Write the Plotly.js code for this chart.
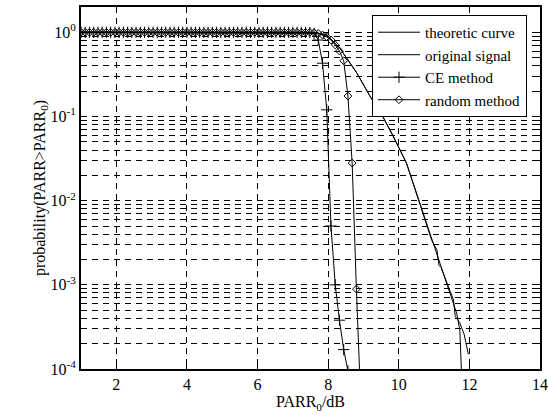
<!DOCTYPE html>
<html>
<head>
<meta charset="utf-8">
<script src="https://cdn.plot.ly/plotly-3.0.1.min.js"></script>
<style>html,body{margin:0;padding:0;background:#fff;}#chart{width:548px;height:417px;}</style>
</head>
<body>
<div id="chart"></div>
<script>
// ---- data ----
var theoX = [1.0, 7.0, 7.4, 7.7, 7.96, 8.33, 8.81, 9.2, 9.47, 9.85, 10.22, 10.6, 10.93, 11.07, 11.45, 11.64, 11.73, 11.78, 11.8];
var theoY = [1.0, 1.0, 0.995, 0.98, 0.93, 0.65, 0.33, 0.17, 0.115, 0.0575, 0.0278, 0.0093, 0.0034, 0.00237, 7.9e-4, 4.6e-4, 2.9e-4, 1.07e-4, 5e-5];

var origX = [1.0, 7.0, 7.4, 7.7, 7.96, 8.33, 8.81, 9.2, 9.47, 9.85, 10.22, 10.6, 10.93, 11.08, 11.14, 11.2, 11.45, 11.55, 11.6, 11.72, 11.85, 11.97];
var origY = [1.0, 1.0, 0.995, 0.98, 0.93, 0.65, 0.33, 0.17, 0.115, 0.0575, 0.0278, 0.0093, 0.0034, 0.0026, 0.0017, 0.0016, 8.6e-4, 6.6e-4, 4.2e-4, 3.6e-4, 2.6e-4, 1.5e-4];

var gridX = [1.00,1.12,1.24,1.36,1.48,1.60,1.72,1.84,1.96,2.08,
             2.20,2.32,2.44,2.56,2.68,2.80,2.92,3.04,3.16,3.28,
             3.40,3.52,3.64,3.76,3.88,4.00,4.12,4.24,4.36,4.48,
             4.60,4.72,4.84,4.96,5.08,5.20,5.32,5.44,5.56,5.68,
             5.80,5.92,6.04,6.16,6.28,6.40,6.52,6.64,6.76,6.88,
             7.00,7.12,7.24,7.36,7.48,7.60,7.72,7.84,7.96,8.08,
             8.20,8.32,8.44,8.56,8.68,8.80,8.92];

var ceX = gridX.slice(0, 64);
var ceY = [1,1,1,1,1,1,1,1,1,1,
           1,1,1,1,1,1,1,1,1,1,
           1,1,1,1,1,1,1,1,1,1,
           1,1,1,1,1,1,1,1,1,1,
           1,1,1,1,1,1,1,1,1,1,
           1,1,1,1,0.995,0.97,0.81,0.43,0.12,0.005,
           0.001,3.8e-4,1.7e-4,9.5e-5];

var rndX = gridX.slice(0, 67);
var rndY = [1,1,1,1,1,1,1,1,1,1,
            1,1,1,1,1,1,1,1,1,1,
            1,1,1,1,1,1,1,1,1,1,
            1,1,1,1,1,1,1,1,1,1,
            1,1,1,1,1,1,1,1,1,1,
            1,1,1,1,1,0.99,0.97,0.93,0.88,0.81,
            0.71,0.60,0.46,0.175,0.028,8.9e-4,4.5e-5];

var seriesNames = ['theoretic curve', 'original signal', 'CE method', 'random method'];
var xTicks = [2, 4, 6, 8, 10, 12, 14];
var yTickVals = [1e-4, 1e-3, 1e-2, 1e-1, 1];
var yTickText = ['10<sup>-4</sup>', '10<sup>-3</sup>', '10<sup>-2</sup>', '10<sup>-1</sup>', '10<sup>0</sup>'];

var FONT = 'Liberation Serif';
var dashPat = '6px,5px';
var traces = [
  {x: theoX, y: theoY, name: seriesNames[0], mode: 'lines', line: {color: '#000', width: 1}},
  {x: origX, y: origY, name: seriesNames[1], mode: 'lines', line: {color: '#000', width: 1}},
  {x: ceX, y: ceY, name: seriesNames[2], mode: 'lines+markers', line: {color: '#000', width: 1},
   marker: {symbol: 'cross-thin-open', size: 8, color: '#000', line: {color: '#000', width: 1}}},
  {x: rndX, y: rndY, name: seriesNames[3], mode: 'lines+markers', line: {color: '#000', width: 1},
   marker: {symbol: 'diamond-open', size: 6, color: '#000', line: {color: '#000', width: 1}}}
];

var layout = {
  width: 548, height: 417,
  margin: {l: 81, r: 8, t: 7, b: 48},
  paper_bgcolor: '#fff', plot_bgcolor: '#fff',
  font: {family: FONT, size: 16, color: '#000'},
  showlegend: true,
  legend: {x: 0.634, y: 0.978, xanchor: 'left', yanchor: 'top', bgcolor: '#fff',
           bordercolor: '#000', borderwidth: 1, font: {family: FONT, size: 15, color: '#000'},
           tracegroupgap: 0, itemwidth: 42},
  xaxis: {
    range: [1, 14], tickvals: xTicks, ticks: 'inside', ticklen: 5, tickwidth: 1, tickcolor: '#000',
    showline: true, linewidth: 2, linecolor: '#000', mirror: 'allticks', zeroline: false,
    showgrid: true, gridcolor: '#000', gridwidth: 1, griddash: dashPat,
    tickfont: {family: FONT, size: 16, color: '#000'},
    title: {text: 'PARR<sub>0</sub>/dB', font: {family: FONT, size: 16, color: '#000'}, standoff: 4}
  },
  yaxis: {
    type: 'log', range: [-4, Math.log10(2)], tickvals: yTickVals, ticktext: yTickText,
    ticks: 'inside', ticklen: 5, tickwidth: 1, tickcolor: '#000',
    showline: true, linewidth: 2, linecolor: '#000', mirror: 'allticks', zeroline: false,
    showgrid: true, gridcolor: '#000', gridwidth: 1, griddash: dashPat,
    minor: {dtick: 'D1', ticks: 'inside', ticklen: 3, tickcolor: '#000', showgrid: true,
            gridcolor: '#000', gridwidth: 1, griddash: dashPat},
    tickfont: {family: FONT, size: 16, color: '#000'},
    title: {text: 'probability(PARR&gt;PARR<sub>0</sub>)', font: {family: FONT, size: 16, color: '#000'}, standoff: 0}
  }
};

Plotly.newPlot('chart', traces, layout, {displayModeBar: false, staticPlot: true});
</script>
</body>
</html>
